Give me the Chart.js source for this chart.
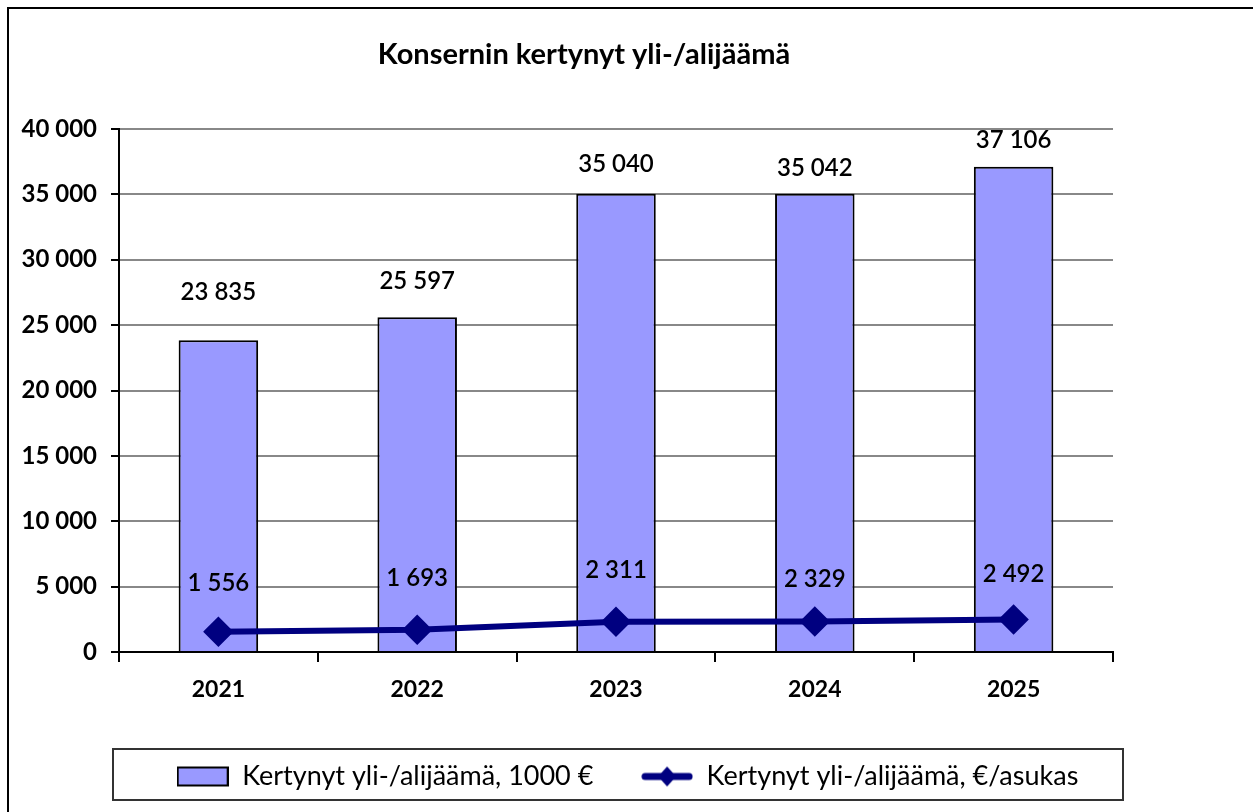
<!DOCTYPE html>
<html>
<head>
<meta charset="utf-8">
<script src="https://cdn.jsdelivr.net/npm/chart.js@4.4.1/dist/chart.umd.min.js"></script>
<style>
  html, body { margin: 0; padding: 0; background: #fff; }
</style>
</head>
<body>
<canvas id="kaavio" width="1253" height="812"></canvas>
<script>
// ====================
// Data
// ====================
const vuodet = ["2021", "2022", "2023", "2024", "2025"];
const ylijaamaTuhatta = [23835, 25597, 35040, 35042, 37106];
const ylijaamaAsukas = [1556, 1693, 2311, 2329, 2492];
const yMin = 0, yMax = 40000, yStep = 5000;

const otsikko = "Konsernin kertynyt yli-/alijäämä";
const sarja1 = "Kertynyt yli-/alijäämä, 1000 €";
const sarja2 = "Kertynyt yli-/alijäämä, €/asukas";

const pylvasVari = "#9999FF";
const viivaVari = "#000080";
const fontti = "Lato, 'Open Sans', sans-serif";

// label lift above each mark (px), as placed in the original
const pylvasNosto = [48, 36, 30, 26, 27];
const viivaNosto = [48, 52, 52, 42, 45];

const muotoile = v => String(v).replace(/\B(?=(\d{3})+(?!\d))/g, " ");

// ====================
// Legend icons
// ====================
function ikoni(piirra) {
    const c = document.createElement("canvas");
    c.width = 52; c.height = 24;
    piirra(c.getContext("2d"));
    return c;
}
const pylvasIkoni = ikoni(g => {
    g.fillStyle = pylvasVari;
    g.fillRect(1, 3, 50, 18);
    g.strokeStyle = "#000"; g.lineWidth = 2;
    g.strokeRect(1, 3, 50, 18);
});
const viivaIkoni = ikoni(g => {
    g.strokeStyle = viivaVari; g.lineWidth = 7; g.lineCap = "round";
    g.beginPath(); g.moveTo(4, 12); g.lineTo(48, 12); g.stroke();
    g.fillStyle = viivaVari;
    g.beginPath(); g.moveTo(26, 2); g.lineTo(35, 12); g.lineTo(26, 22); g.lineTo(17, 12); g.closePath(); g.fill();
});

// ====================
// Plugins
// ====================
const kehys = {
    id: "kehys",
    beforeDraw(chart) {
        const ctx = chart.ctx;
        ctx.save();
        ctx.fillStyle = "#fff";
        ctx.fillRect(0, 0, chart.width, chart.height);
        ctx.strokeStyle = "#000"; ctx.lineWidth = 2;
        ctx.strokeRect(8, 8, chart.width + 20, chart.height + 20);
        // title
        ctx.fillStyle = "#000";
        ctx.font = "bold 29px " + fontti;
        ctx.textAlign = "center"; ctx.textBaseline = "middle";
        ctx.fillText(otsikko, 584, 55);
        // legend frame
        const l = chart.legend, a = chart.chartArea;
        ctx.strokeStyle = "#333"; ctx.lineWidth = 2;
        ctx.strokeRect(a.left - 6, l.top, a.right - a.left + 16, l.bottom - l.top);
        ctx.restore();
    }
};

const arvot = {
    id: "arvot",
    afterDatasetsDraw(chart) {
        const ctx = chart.ctx;
        ctx.save();
        ctx.fillStyle = "#000";
        ctx.font = "600 24px " + fontti;
        ctx.textAlign = "center"; ctx.textBaseline = "middle";
        chart.getDatasetMeta(0).data.forEach((el, i) => {
            ctx.fillText(muotoile(ylijaamaTuhatta[i]), el.x, el.y - pylvasNosto[i]);
        });
        chart.getDatasetMeta(1).data.forEach((el, i) => {
            ctx.fillText(muotoile(ylijaamaAsukas[i]), el.x, el.y - viivaNosto[i]);
        });
        ctx.restore();
    }
};

// ====================
// Chart
// ====================
const ctxKaavio = document.getElementById("kaavio");
new Chart(ctxKaavio, {
    type: "bar",
    data: {
        labels: vuodet,
        datasets: [
            {
                type: "bar",
                label: sarja1,
                data: ylijaamaTuhatta,
                backgroundColor: pylvasVari,
                borderColor: "#000",
                borderWidth: 2,
                barPercentage: 0.4,
                categoryPercentage: 1,
                order: 1
            },
            {
                type: "line",
                label: sarja2,
                data: ylijaamaAsukas,
                borderColor: viivaVari,
                backgroundColor: viivaVari,
                borderWidth: 6,
                pointStyle: "rectRot",
                pointRadius: 11,
                pointHoverRadius: 11,
                tension: 0,
                order: 0
            }
        ]
    },
    options: {
        responsive: false,
        animation: false,
        layout: { padding: { top: 129, left: 12, right: 10, bottom: 12 } },
        scales: {
            x: {
                grid: {
                    color: c => c.index === vuodet.length ? "#888" : "transparent",
                    lineWidth: 2,
                    tickColor: "#000",
                    tickLength: 10
                },
                border: { color: "#000", width: 2 },
                ticks: { color: "#000", font: { family: fontti, size: 23, weight: "bold" }, padding: 14 },
                afterFit: s => { s.height = 97; }
            },
            y: {
                min: yMin, max: yMax,
                ticks: {
                    stepSize: yStep,
                    color: "#000",
                    padding: 14,
                    font: { family: fontti, size: 24, weight: "bold" },
                    callback: v => muotoile(v)
                },
                grid: { color: "#888", lineWidth: 2, tickColor: "#000", tickLength: 8 },
                border: { color: "#000", width: 2 },
                afterFit: s => { s.width = 107; }
            },
            oikea: {
                position: "right",
                min: 0, max: 1,
                ticks: { display: false },
                grid: { display: false },
                border: { display: false },
                afterFit: s => { s.width = 130; }
            }
        },
        plugins: {
            legend: {
                position: "bottom",
                labels: {
                    usePointStyle: true,
                    pointStyleWidth: 52,
                    boxHeight: 24,
                    padding: 14,
                    color: "#000",
                    font: { family: fontti, size: 27 },
                    generateLabels: () => [
                        { text: sarja1 + "\u2003\u2002", pointStyle: pylvasIkoni, datasetIndex: 0, fillStyle: pylvasVari, strokeStyle: "#000", lineWidth: 0 },
                        { text: sarja2, pointStyle: viivaIkoni, datasetIndex: 1, fillStyle: viivaVari, strokeStyle: viivaVari, lineWidth: 0 }
                    ]
                }
            },
            title: { display: false },
            tooltip: { enabled: false }
        }
    },
    plugins: [kehys, arvot]
});
</script>
</body>
</html>
